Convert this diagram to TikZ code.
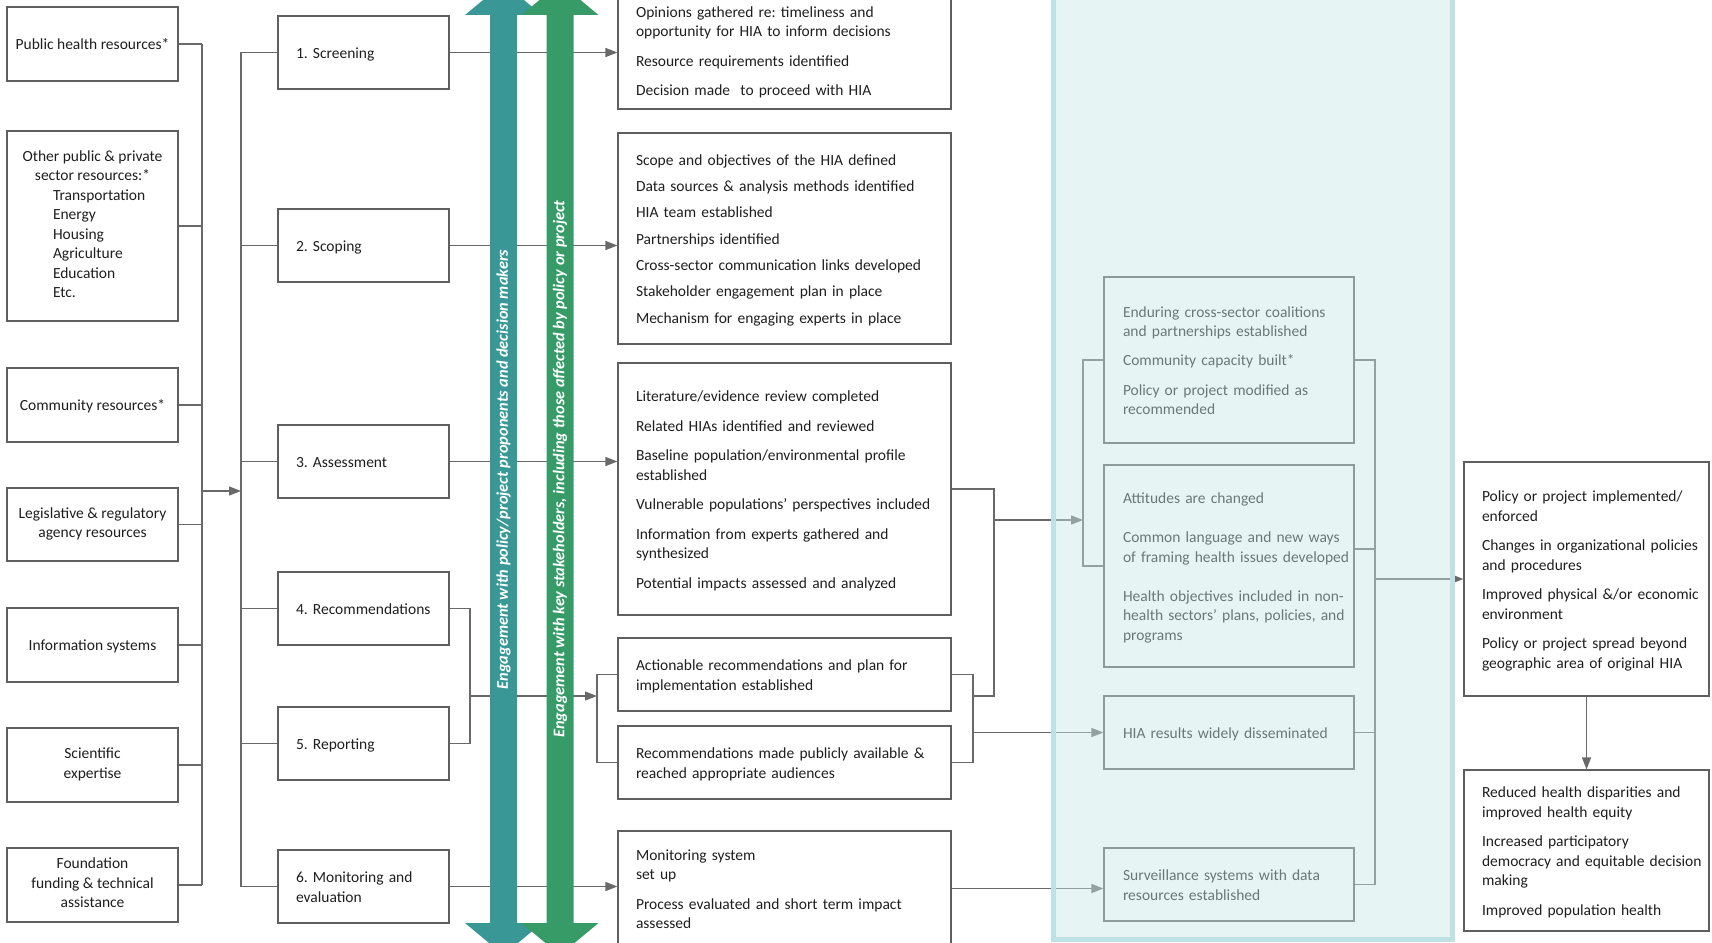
\documentclass[tikz,border=0pt]{standalone}
\usepackage{fontspec}
\setmainfont{Carlito}
\usetikzlibrary{arrows.meta, calc}
\frenchspacing

\definecolor{hiateal}{RGB}{57, 151, 150}
\definecolor{hiagreen}{RGB}{55, 155, 104}
\definecolor{boxline}{RGB}{95, 95, 95}
\definecolor{linkgray}{RGB}{105, 105, 105}
\definecolor{inktext}{RGB}{30, 30, 30}
\definecolor{panelfill}{RGB}{200, 230, 230}
\definecolor{panelrim}{RGB}{189, 225, 228}

\newcommand{\hiasize}{\fontsize{15.5}{19.5}\selectfont}

\tikzset{
  box/.style={draw=boxline, line width=1.2pt, text=inktext, font=\hiasize, inner ysep=0pt,
    execute at begin node={\rule{0pt}{15.5pt}}, execute at end node={\rule[-4pt]{0pt}{4pt}}},
  resbox/.style={box, minimum width=171pt, minimum height=74pt, align=center, inner xsep=0pt},
  reslines/.style={resbox, execute at begin node={\rule{0pt}{22pt}}},
  stepbox/.style={box, minimum height=73pt, text width=135pt, inner xsep=18pt, align=left},
  outbox/.style={box, text width=297pt, inner xsep=18pt, align=left},
  midbox/.style={box, text width=212pt, inner xsep=19pt, align=left},
  endbox/.style={box, text width=209pt, inner xsep=18pt, align=left},
  link/.style={draw=linkgray, line width=1.3pt},
  linkarrow/.style={link, -{Triangle[length=12pt, width=9pt]}},
  engtext/.style={rotate=90, text=white, font=\fontsize{16.3}{19.5}\selectfont\bfseries\itshape, inner sep=0pt}
}

\begin{document}
\begin{tikzpicture}[x=1pt, y=-1pt]
  \useasboundingbox (0,0) rectangle (1712,942);

  % Inputs
  \node[resbox] (pub) at (92.5,44) {Public health resources*};
  \node[reslines, minimum height=190pt] (oth) at (92.5,226) {Other public \& private\\ sector resources:*\\
    \makebox[79pt][l]{Transportation}\\ \makebox[79pt][l]{Energy}\\ \makebox[79pt][l]{Housing}\\
    \makebox[79pt][l]{Agriculture}\\ \makebox[79pt][l]{Education}\\ \makebox[79pt][l]{Etc.}};
  \node[resbox] (com) at (92.5,405) {Community resources*};
  \node[reslines, minimum height=73pt] (leg) at (92.5,524.5) {Legislative \& regulatory\\ agency resources};
  \node[resbox] (inf) at (92.5,645) {Information systems};
  \node[reslines] (sci) at (92.5,765) {Scientific\\ expertise};
  \node[reslines] (fnd) at (92.5,885) {Foundation\\ funding \& technical\\ assistance};

  % HIA steps
  \node[stepbox] (scr) at (363.5,52.5) {1. Screening};
  \node[stepbox] (scp) at (363.5,245.5) {2. Scoping};
  \node[stepbox] (asm) at (363.5,461.5) {3. Assessment};
  \node[stepbox] (rec) at (363.5,608.5) {\mbox{4. Recommendations}};
  \node[stepbox] (rep) at (363.5,743.5) {5. Reporting};
  \node[stepbox] (mon) at (363.5,886.5) {6. Monitoring and\\ evaluation};

  % Outputs
  \node[outbox, minimum height=116pt] (out1) at (784.5,51) {Opinions gathered re: timeliness and\\
    opportunity for HIA to inform decisions\\[10pt] Resource requirements identified\\[10pt]
    Decision made~ to proceed with HIA};
  \node[outbox, minimum height=211pt] (out2) at (784.5,238.5) {Scope and objectives of the HIA defined\\[6.8pt]
    Data sources \& analysis methods identified\\[6.8pt] HIA team established\\[6.8pt]
    Partnerships identified\\[6.8pt] Cross-sector communication links developed\\[6.8pt]
    Stakeholder engagement plan in place\\[6.8pt] Mechanism for engaging experts in place};
  \node[outbox, minimum height=252pt] (out3) at (784.5,489) {Literature/evidence review completed\\[10pt]
    Related HIAs identified and reviewed\\[10pt] Baseline population/environmental profile\\
    established\\[10pt] \mbox{Vulnerable populations’ perspectives included}\\[10pt]
    Information from experts gathered and\\ synthesized\\[10pt] Potential impacts assessed and analyzed};
  \node[outbox, minimum height=73pt] (out4) at (784.5,674.5) {Actionable recommendations and plan for\\
    implementation established};
  \node[outbox, minimum height=73pt] (out5) at (784.5,762.5) {Recommendations made publicly available \&\\
    reached appropriate audiences};
  \node[outbox, minimum height=115pt] (out6) at (784.5,888.5) {Monitoring system\\ set up\\[10pt]
    Process evaluated and short term impact\\ assessed};

  % Intermediate outcomes
  \node[midbox, minimum height=166pt] (ma) at (1229,360) {Enduring cross-sector coalitions\\
    and partnerships established\\[9.5pt] Community capacity built*\\[10pt]
    Policy or project modified as\\ recommended};
  \node[midbox, minimum height=202pt] (mb) at (1229,566) {Attitudes are changed\\[20pt]
    \mbox{Common language and new ways}\\ \mbox{of framing health issues developed}\\[19.5pt]
    \mbox{Health objectives included in non-}\\ \mbox{health sectors’ plans, policies, and}\\ programs};
  \node[midbox, minimum height=73pt] (mc) at (1229,732.5) {HIA results widely disseminated};
  \node[midbox, minimum height=73pt] (md) at (1229,884.5) {Surveillance systems with data\\
    resources established};

  % Long-term outcomes
  \node[endbox, minimum height=234pt] (f1) at (1586.5,579) {Policy or project implemented/\\ enforced\\[10pt]
    \mbox{Changes in organizational policies}\\ and procedures\\[10pt]
    \mbox{Improved physical \&/or economic}\\ environment\\[10pt]
    Policy or project spread beyond\\ geographic area of original HIA};
  \node[endbox, minimum height=161pt] (f2) at (1586.5,850.5) {Reduced health disparities and\\
    improved health equity\\[10pt] Increased participatory\\
    \mbox{democracy and equitable decision}\\ making\\[10pt] Improved population health};

  % Inputs feed the steps
  \coordinate (busL) at (202,0);
  \coordinate (busR) at (241,0);
  \coordinate (feed) at (202,491);
  \foreach \n in {pub,oth,com,leg,inf,sci,fnd}
    \draw[link] (\n.east) -- (\n.east -| busL);
  \draw[link] (pub.east -| busL) -- (fnd.east -| busL);
  \draw[linkarrow] (feed) -- (feed -| busR);
  \draw[link] (scr.west -| busR) -- (mon.west -| busR);
  \foreach \n in {scr,scp,asm,rec,rep,mon}
    \draw[link] (\n.west -| busR) -- (\n.west);

  % Steps to outputs
  \draw[linkarrow] (scr.east) -- (scr.east -| out1.west);
  \draw[linkarrow] (scp.east) -- (scp.east -| out2.west);
  \draw[linkarrow] (asm.east) -- (asm.east -| out3.west);
  \draw[linkarrow] (mon.east) -- (mon.east -| out6.west);
  \coordinate (rrj) at (470,696);
  \coordinate (rrk) at (597,696);
  \draw[link] (rec.east) -| (rrj) |- (rep.east);
  \draw[linkarrow] (rrj) -- (rrk);
  \draw[link] (out4.west) -| (rrk) |- (out5.west);

  % Outputs to intermediate outcomes
  \coordinate (oj) at (994,520);
  \coordinate (ok) at (973,696);
  \coordinate (mj) at (1083,520);
  \draw[link] (out4.east) -| (ok) |- (out5.east);
  \draw[link] (out3.east) -| (oj |- ok) -- (ok);
  \draw[linkarrow] (oj) -- (mj);
  \draw[link] (ma.west) -| (mj) |- (mb.west);
  \draw[linkarrow] (ok |- mc.west) -- (mc.west);
  \draw[linkarrow] (out6.east) -- (out6.east -| md.west);

  % Intermediate to long-term outcomes
  \coordinate (ej) at (1375,579);
  \draw[link] (ma.east) -| (ej |- md.east) -- (md.east);
  \draw[link] ([yshift=17pt]mb.east) -- ([yshift=17pt]mb.east -| ej);
  \draw[link] (mc.east) -- (mc.east -| ej);
  \draw[linkarrow] (ej) -- (ej -| f1.west);
  \draw[linkarrow] (f1.south) -- (f2.north);

  % Engagement arrows
  \foreach \cx/\col in {503.5/hiateal, 560/hiagreen}
    \fill[\col] (\cx-13.5,15) -- (\cx-38.5,15) -- (\cx,-17) -- (\cx+38.5,15) -- (\cx+13.5,15)
      -- (\cx+13.5,923) -- (\cx+38.5,923) -- (\cx,955) -- (\cx-38.5,923) -- (\cx-13.5,923) -- cycle;
  \node[engtext] (engA) at (503.5,469.5) {Engagement with policy/project proponents and decision makers};
  \node[engtext] (engB) at (560,469) {Engagement with key stakeholders, including those affected by policy or project};

  % Shaded band over the intermediate outcomes
  \fill[panelfill, fill opacity=0.45] (1053.5,-5) rectangle (1452.5,939.5);
  \draw[panelrim, line width=5pt] (1053.5,-5) -- (1053.5,939.5) -- (1452.5,939.5) -- (1452.5,-5);
\end{tikzpicture}
\end{document}
